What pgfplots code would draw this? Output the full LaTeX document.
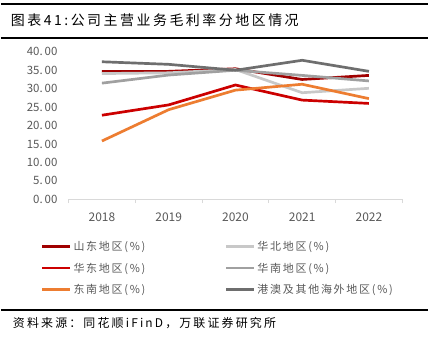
\documentclass[border=0pt]{standalone}
\usepackage{pgfplots}
\pgfplotsset{compat=1.18}
\usepackage{fontspec}
\setmainfont{Noto Sans CJK SC}
\newfontfamily\cjksp[LetterSpace=18]{Noto Sans CJK SC}
\newfontfamily\cjkleg[LetterSpace=16]{Noto Sans CJK SC}
\definecolor{cSD}{HTML}{A00000}
\definecolor{cHD}{HTML}{CC0000}
\definecolor{cDN}{HTML}{ED7D31}
\definecolor{cHB}{HTML}{C8C8C8}
\definecolor{cHN}{HTML}{A0A0A0}
\definecolor{cGA}{HTML}{6E6E6E}
\definecolor{tickgray}{HTML}{595959}
\begin{document}
\begin{tikzpicture}[x=1pt,y=1pt]
\fill[white] (0,0) rectangle (429,349);
% title rules
\draw[line width=1.6pt] (0,345) -- (429,345);
\draw[line width=1.6pt] (0,311) -- (429,311);
\node[anchor=west, inner sep=0pt] at (10,328.5) {\cjksp\fontsize{14}{16}\selectfont 图表41:公司主营业务毛利率分地区情况};
% footer rule
\draw[line width=1.6pt] (0,38) -- (429,38);
\node[anchor=west, inner sep=0pt] at (12,25) {\cjksp\fontsize{12}{14}\selectfont 资料来源：同花顺iFinD，万联证券研究所};
\begin{axis}[
  at={(68pt,149pt)}, anchor=south west,
  width=335pt, height=148pt, scale only axis,
  xmin=-0.5, xmax=4.5, ymin=0, ymax=40,
  axis x line*=bottom, axis y line=none,
  x axis line style={color=cHB!70, line width=0.8pt, -},
  xtick={0,1,2,3,4},
  xticklabels={2018,2019,2020,2021,2022},
  major x tick style={draw=none},
  minor xtick={-0.5,0.5,1.5,2.5,3.5,4.5},
  minor x tick style={color=cHB!70, line width=0.8pt},
  minor tick length=4pt,
  tick align=outside,
  xticklabel style={font=\fontsize{12}{14}\selectfont, text=tickgray, yshift=-6pt},
  clip=false,
  legend columns=2,
  legend cell align=left,
  legend style={at={(-0.083,-0.27)}, anchor=north west, draw=none, fill=none,
    inner sep=0pt, row sep=6.8pt, column sep=0pt,
    font=\cjkleg\fontsize{11}{13}\selectfont, text=tickgray},
  legend image code/.code={\draw[#1, line width=2.6pt] (0pt,0pt) -- (28pt,0pt);},
]
\node[anchor=east, inner sep=0pt, text=tickgray, font=\fontsize{11.5}{13}\selectfont] at (axis cs:-0.5,40) [xshift=-11pt] {40.\,00};
\node[anchor=east, inner sep=0pt, text=tickgray, font=\fontsize{11.5}{13}\selectfont] at (axis cs:-0.5,35) [xshift=-11pt] {35.\,00};
\node[anchor=east, inner sep=0pt, text=tickgray, font=\fontsize{11.5}{13}\selectfont] at (axis cs:-0.5,30) [xshift=-11pt] {30.\,00};
\node[anchor=east, inner sep=0pt, text=tickgray, font=\fontsize{11.5}{13}\selectfont] at (axis cs:-0.5,25) [xshift=-11pt] {25.\,00};
\node[anchor=east, inner sep=0pt, text=tickgray, font=\fontsize{11.5}{13}\selectfont] at (axis cs:-0.5,20) [xshift=-11pt] {20.\,00};
\node[anchor=east, inner sep=0pt, text=tickgray, font=\fontsize{11.5}{13}\selectfont] at (axis cs:-0.5,15) [xshift=-11pt] {15.\,00};
\node[anchor=east, inner sep=0pt, text=tickgray, font=\fontsize{11.5}{13}\selectfont] at (axis cs:-0.5,10) [xshift=-11pt] {10.\,00};
\node[anchor=east, inner sep=0pt, text=tickgray, font=\fontsize{11.5}{13}\selectfont] at (axis cs:-0.5,5) [xshift=-11pt] {5.\,00};
\node[anchor=east, inner sep=0pt, text=tickgray, font=\fontsize{11.5}{13}\selectfont] at (axis cs:-0.5,0) [xshift=-11pt] {0.\,00};
\addplot[cSD, line width=2.7pt] coordinates {(0,34.7) (1,34.7) (2,35.4) (3,32.5) (4,33.6)};
\addlegendentry{\makebox[150pt][l]{山东地区(\%)}}
\addplot[cHB, line width=2.7pt] coordinates {(0,34.1) (1,34.3) (2,35.2) (3,28.9) (4,30.1)};
\addlegendentry{华北地区(\%)}
\addplot[cHD, line width=2.7pt] coordinates {(0,22.8) (1,25.6) (2,31.0) (3,26.9) (4,26.0)};
\addlegendentry{\makebox[150pt][l]{华东地区(\%)}}
\addplot[cHN, line width=2.7pt] coordinates {(0,31.5) (1,33.7) (2,35.0) (3,33.6) (4,32.1)};
\addlegendentry{华南地区(\%)}
\addplot[cDN, line width=2.7pt] coordinates {(0,15.8) (1,24.3) (2,29.6) (3,31.2) (4,27.3)};
\addlegendentry{\makebox[150pt][l]{东南地区(\%)}}
\addplot[cGA, line width=2.7pt] coordinates {(0,37.3) (1,36.6) (2,35.0) (3,37.7) (4,34.7)};
\addlegendentry{港澳及其他海外地区(\%)}
\end{axis}
\end{tikzpicture}
\end{document}
